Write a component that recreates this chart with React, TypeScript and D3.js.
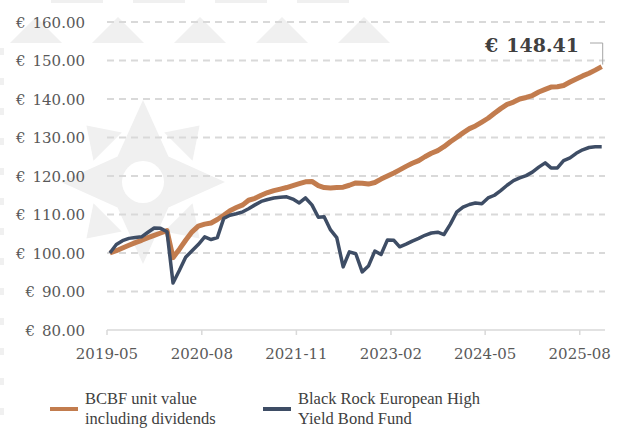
import React from "react";
import * as d3 from "d3";

const months: string[] = [];
for (let y = 2019, m = 5; months.length < 79; ) {
  months.push(`${y}-${String(m).padStart(2, "0")}`);
  m++;
  if (m > 12) { m = 1; y++; }
}

const bcbfValues = [
  100.0, 100.6, 101.3, 102.0, 102.7, 103.3, 104.0, 104.6, 105.2, 105.8,
  98.8, 101.0, 103.3, 105.5, 107.0, 107.5, 107.8, 108.7, 109.8, 111.0,
  111.8, 112.5, 113.7, 114.2, 115.0, 115.7, 116.2, 116.6, 117.0, 117.5,
  118.0, 118.5, 118.6, 117.5, 117.0, 116.9, 117.0, 117.1, 117.6, 118.2,
  118.1, 117.9, 118.3, 119.2, 120.0, 120.8, 121.6, 122.5, 123.3, 124.0,
  125.0, 125.9, 126.6, 127.6, 128.9, 130.0, 131.2, 132.3, 133.0, 134.0,
  135.0, 136.3, 137.5, 138.6, 139.2, 140.0, 140.4, 140.9, 141.8, 142.5,
  143.1, 143.2, 143.5, 144.4, 145.2, 146.0, 146.7, 147.5, 148.41,
];

const blackRockValues = [
  100.0, 102.2, 103.2, 103.8, 104.0, 104.2, 105.4, 106.5, 106.4, 105.5,
  92.2, 95.5, 98.9, 100.6, 102.2, 104.2, 103.5, 104.0, 109.0, 109.8,
  110.2, 110.7, 111.5, 112.5, 113.4, 113.9, 114.3, 114.5, 114.6, 114.0,
  113.0, 114.3, 112.5, 109.3, 109.4, 106.0, 104.0, 96.4, 100.3, 99.8,
  95.1, 96.6, 100.5, 99.6, 103.4, 103.3, 101.6, 102.3, 103.1, 103.8,
  104.6, 105.2, 105.4, 104.8, 107.5, 110.6, 111.9, 112.6, 113.0, 112.8,
  114.3, 115.0, 116.2, 117.6, 118.8, 119.5, 120.1, 121.0, 122.3, 123.4,
  122.1, 122.1, 124.0, 124.7, 125.9, 126.8, 127.4, 127.6, 127.6,
];

const yTicks = [80, 90, 100, 110, 120, 130, 140, 150, 160];
const xTickLabels = ["2019-05", "2020-08", "2021-11", "2023-02", "2024-05", "2025-08"];
const seriesNames = [
  ["BCBF unit value", "including dividends"],
  ["Black Rock European High", "Yield Bond Fund"],
];
const lastValue = 148.41;

const TICK_FONT = "'DejaVu Serif', serif";
const LEG_FONT = "'Liberation Serif', serif";
const ORANGE = "#C27C4E";
const NAVY = "#3E4D65";

const parseMonth = d3.timeParse("%Y-%m");
const dateOf = (m: string, day = 15) => {
  const d = parseMonth(m)!;
  return new Date(d.getFullYear(), d.getMonth(), day);
};

export default function App() {
  const W = 619, H = 428;
  const x = d3.scaleTime()
    .domain([dateOf("2019-05", 1), dateOf("2025-12", 1)])
    .range([107, 605]);
  const y = d3.scaleLinear().domain([80, 160]).range([330, 22]);

  const line = d3.line<number>()
    .x((_, i) => x(dateOf(months[i])))
    .y((v) => y(v));

  // watermark
  const cx = 143, cy = 182;
  const star: [number, number][] = [];
  const longR = 82, innerR = 36;
  for (let k = 0; k < 8; k++) {
    const a = (k * Math.PI) / 4 - Math.PI / 2;
    const r = k % 2 === 0 ? longR : innerR;
    star.push([cx + r * Math.cos(a), cy + r * Math.sin(a)]);
  }
  const diag: [number, number][][] = [];
  for (let k = 0; k < 4; k++) {
    const a = Math.PI / 4 + (k * Math.PI) / 2;
    const ux = Math.cos(a), uy = Math.sin(a);
    const px = -uy, py = ux;
    const bR = 50, tipR = 80, hw = 20;
    diag.push([
      [cx + ux * tipR, cy + uy * tipR],
      [cx + ux * bR + px * hw, cy + uy * bR + py * hw],
      [cx + ux * bR - px * hw, cy + uy * bR - py * hw],
    ]);
  }
  const wmColor = "#f0f0f0";
  const triCenters = [36, 118, 200, 282, 364];
  const topRects = [77, 159, 241, 323];
  const leftMarks = d3.range(48, 428, 30);

  const endX = x(dateOf(months[months.length - 1]));
  const endY = y(bcbfValues[bcbfValues.length - 1]);

  return (
    <svg width={W} height={H} style={{ position: "absolute", left: 0, top: 0, background: "#fff" }}>
      <g>
        {triCenters.map((c) => (
          <polygon key={c} points={`${c - 26},43 ${c},17 ${c + 26},43`} fill={wmColor} />
        ))}
        {topRects.map((c) => (
          <rect key={c} x={c - 26} y={0} width={52} height={3} fill={wmColor} />
        ))}
        {leftMarks.map((m) => (
          <rect key={m} x={0} y={m} width={4} height={7} fill={wmColor} />
        ))}
        <polygon points={star.map((p) => p.join(",")).join(" ")} fill={wmColor} />
        {diag.map((t, i) => (
          <polygon key={i} points={t.map((p) => p.join(",")).join(" ")} fill={wmColor} />
        ))}
        <circle cx={cx} cy={cy} r={21} fill="#fff" />
      </g>

      {yTicks.filter((t) => t !== 80).map((t) => (
        <line key={t} x1={107} x2={605} y1={y(t)} y2={y(t)} stroke="#d9d9d9" strokeWidth={2} strokeDasharray="7 5" />
      ))}
      <line x1={107} x2={605} y1={y(80)} y2={y(80)} stroke="#d9d9d9" strokeWidth={1.5} />
      {xTickLabels.map((l) => (
        <line key={l} x1={x(dateOf(l, 1))} x2={x(dateOf(l, 1))} y1={y(80)} y2={y(80) + 5} stroke="#d9d9d9" strokeWidth={1.5} />
      ))}

      {yTicks.map((t) => (
        <text key={t} x={85} y={y(t) + 5.5} textAnchor="end" fontFamily={TICK_FONT} fontSize={15} fill="#595959">
          <tspan>€</tspan>
          <tspan dx={7}>{t.toFixed(2)}</tspan>
        </text>
      ))}
      {xTickLabels.map((l) => (
        <text key={l} x={x(dateOf(l, 1))} y={359} textAnchor="middle" fontFamily={TICK_FONT} fontSize={15} fill="#595959">
          {l}
        </text>
      ))}

      <path d={line(bcbfValues)!} fill="none" stroke={ORANGE} strokeWidth={5} strokeLinejoin="round" />
      <path d={line(blackRockValues)!} fill="none" stroke={NAVY} strokeWidth={3.5} strokeLinejoin="round" />

      <polyline points={`${590},${43} ${endX + 1},${43} ${endX + 1},${endY - 2}`} fill="none" stroke="#a6a6a6" strokeWidth={1} />
      <text x={579} y={52} textAnchor="end" fontFamily={TICK_FONT} fontSize={19} fontWeight="bold" fill="#404040">
        <tspan>€</tspan>
        <tspan dx={8}>{lastValue.toFixed(2)}</tspan>
      </text>

      {seriesNames.map((names, i) => {
        const lx = i === 0 ? 50 : 263;
        return (
          <g key={i}>
            <line x1={lx} x2={lx + 28} y1={409} y2={409} stroke={i === 0 ? ORANGE : NAVY} strokeWidth={4} />
            {names.map((n, j) => (
              <text key={j} x={lx + 35} y={404 + j * 20} fontFamily={LEG_FONT} fontSize={16.5} fill="#404040">
                {n}
              </text>
            ))}
          </g>
        );
      })}
    </svg>
  );
}
